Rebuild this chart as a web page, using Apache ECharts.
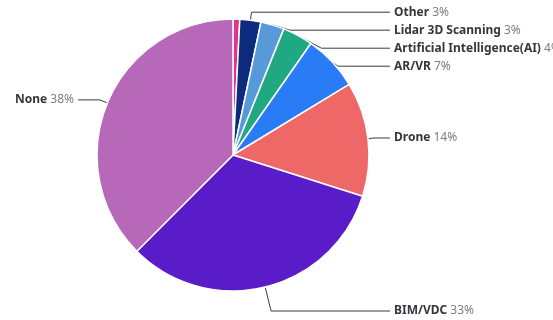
<!DOCTYPE html>
<html>
<head>
<meta charset="utf-8">
<script src="https://cdn.jsdelivr.net/npm/echarts@6/dist/echarts.min.js"></script>
<style>
  html, body { margin: 0; padding: 0; background: #fff; }
  #chart { width: 553px; height: 320px; }
</style>
</head>
<body>
<div id="chart"></div>
<script>
// Share of respondents by technology in use (percent)
const categories = ['Robotics', 'Other', 'Lidar 3D Scanning', 'Artificial Intelligence(AI)', 'AR/VR', 'Drone', 'BIM/VDC', 'None'];
const shares = [0.8, 2.5, 2.8, 3.6, 6.6, 13.6, 32.6, 37.5];
const showLabel = [false, true, true, true, true, true, true, true];
const colors = ['#e0358b', '#0d2b7c', '#5899da', '#20a882', '#2a7cf6', '#ee6868', '#5a1cc8', '#b868b8'];
// leader line segments: [radial length, horizontal length]
const leader = [[8, 14], [8, 14], [8, 14], [8, 14], [8, 14], [6, 16], [25, 6], [8, 22]];

const chart = echarts.init(document.getElementById('chart'), null, { renderer: 'canvas' });

const data = categories.map((name, i) => ({
  name: name,
  value: shares[i],
  itemStyle: { color: colors[i] },
  label: { show: showLabel[i] },
  labelLine: { show: showLabel[i], length: leader[i][0], length2: leader[i][1] }
}));

chart.setOption({
  animation: false,
  series: [{
    type: 'pie',
    center: [233, 155],
    radius: 136,
    startAngle: 90,
    clockwise: true,
    avoidLabelOverlap: true,
    itemStyle: { borderColor: '#ffffff', borderWidth: 1.5 },
    label: {
      alignTo: 'labelLine',
      distanceToLabelLine: 4,
      overflow: 'none',
      fontFamily: 'Noto Sans',
      fontSize: 12,
      lineHeight: 16,
      formatter: p => '{n|' + p.name + '} {v|' + Math.round(p.value) + '%}',
      rich: {
        n: { fontFamily: 'Noto Sans', fontSize: 12, fontWeight: 'bold', color: '#34373b' },
        v: { fontFamily: 'Noto Sans', fontSize: 12, color: '#7b7e82' }
      }
    },
    labelLine: {
      lineStyle: { color: '#3a3a3a', width: 1 }
    },
    data: data
  }]
});
</script>
</body>
</html>
